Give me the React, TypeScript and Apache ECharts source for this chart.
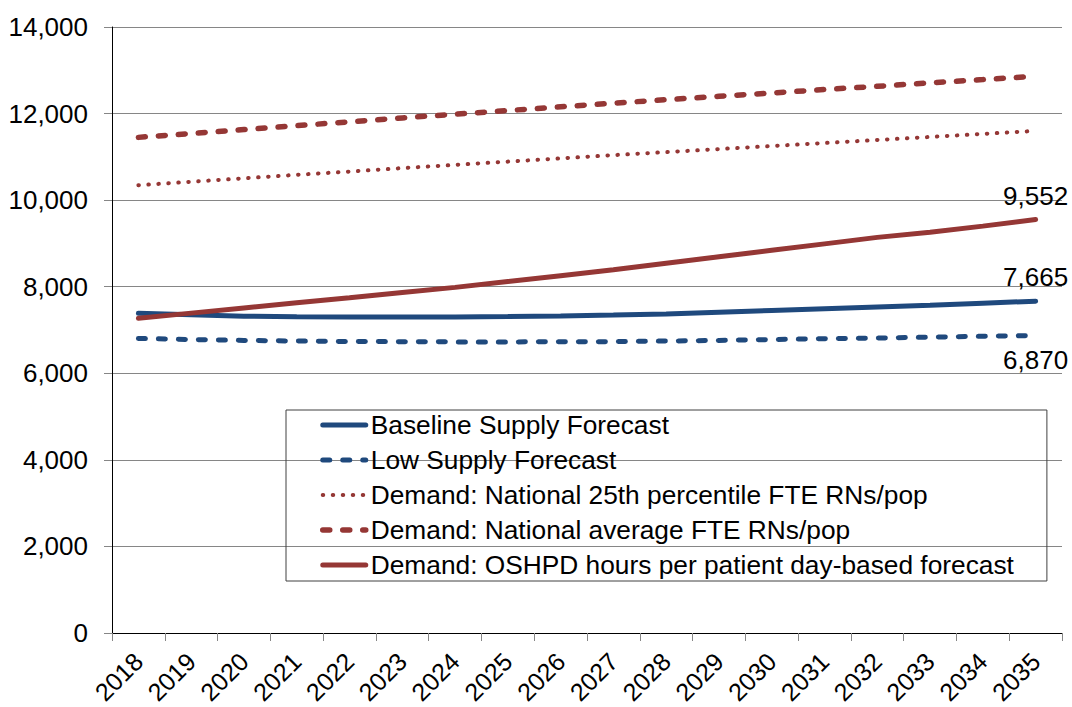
import React, { useEffect, useRef } from "react";
import * as echarts from "echarts";

const years = ["2018","2019","2020","2021","2022","2023","2024","2025","2026","2027","2028","2029","2030","2031","2032","2033","2034","2035"];
const baselineSupply = [7385,7350,7320,7305,7300,7300,7300,7310,7325,7345,7370,7410,7450,7490,7530,7570,7620,7665];
const lowSupply = [6805,6780,6760,6745,6735,6730,6725,6725,6728,6732,6745,6760,6780,6800,6815,6835,6855,6870];
const demandNat25 = [10345,10425,10505,10585,10660,10740,10815,10890,10965,11040,11110,11180,11250,11320,11390,11460,11530,11600];
const demandNatAvg = [11450,11540,11630,11720,11810,11900,11985,12070,12155,12240,12320,12400,12475,12555,12630,12710,12785,12862];
const demandOshpd = [7270,7390,7510,7630,7745,7865,7985,8120,8255,8390,8540,8690,8840,8990,9140,9260,9400,9552];
const seriesNames = [
  "Baseline Supply Forecast",
  "Low Supply Forecast",
  "Demand: National 25th percentile FTE RNs/pop",
  "Demand: National average FTE RNs/pop",
  "Demand: OSHPD hours per patient day-based forecast",
];

const BLUE = "#1F497D";
const RED = "#953735";
const FONT = "Liberation Sans, Arial, sans-serif";

function withEndLabel(values: number[], position: "top" | "bottom") {
  return values.map((v, i) =>
    i === values.length - 1
      ? {
          value: v,
          label: {
            show: true,
            position,
            distance: 11,
            color: "#000",
            opacity: 1,
            fontSize: 26,
            fontFamily: FONT,
            formatter: (p: any) => Number(p.value).toLocaleString("en-US"),
          },
        }
      : v
  );
}

export default function App() {
  const ref = useRef<HTMLDivElement>(null);
  useEffect(() => {
    if (!ref.current) return;
    const chart = echarts.init(ref.current, undefined, { renderer: "svg" });
    const mk = (name: string, data: any[], color: string, width: number, type: any) => ({
      name,
      type: "line",
      data,
      symbol: "circle",
      symbolSize: 0.01,
      showSymbol: true,
      itemStyle: { color },
      smooth: false,
      color,
      lineStyle: { color, width, type, cap: "round" },
    });
    chart.setOption({
      animation: false,
      backgroundColor: "#fff",
      textStyle: { fontFamily: FONT },
      grid: { left: 112, right: 10, top: 27, bottom: 74, outerBoundsMode: "none", containLabel: false },
      legend: {
        orient: "vertical",
        left: 286,
        top: 410,
        padding: [2, 33, 3, 34],
        borderColor: "#404040",
        borderWidth: 1,
        itemWidth: 43,
        itemHeight: 14,
        itemGap: 9,
        itemStyle: { opacity: 0 },
        lineStyle: { width: "inherit", type: "inherit", cap: "round" },
        textStyle: { fontSize: 26.3, lineHeight: 26, color: "#000", fontFamily: FONT },
        data: seriesNames,
      },
      xAxis: {
        type: "category",
        data: years,
        boundaryGap: true,
        axisLine: { lineStyle: { color: "#000", width: 1 } },
        axisTick: { show: true, length: 8, lineStyle: { color: "#868686" } },
        axisLabel: { rotate: 45, margin: 24, fontSize: 25, color: "#000", fontFamily: FONT, interval: 0 },
      },
      yAxis: {
        type: "value",
        min: 0,
        max: 14000,
        interval: 2000,
        axisLine: { show: true, lineStyle: { color: "#000", width: 1 } },
        axisTick: { show: true, length: 8, lineStyle: { color: "#868686" } },
        splitLine: { lineStyle: { color: "#868686", width: 1 } },
        axisLabel: {
          margin: 24,
          fontSize: 26,
          color: "#000",
          fontFamily: FONT,
          formatter: (v: number) => v.toLocaleString("en-US"),
        },
      },
      series: [
        mk(seriesNames[0], withEndLabel(baselineSupply, "top"), BLUE, 5, "solid"),
        mk(seriesNames[1], withEndLabel(lowSupply, "bottom"), BLUE, 5, [7, 13]),
        mk(seriesNames[2], demandNat25, RED, 4, [0.5, 9.5]),
        mk(seriesNames[3], demandNatAvg, RED, 5.5, [7, 13]),
        mk(seriesNames[4], withEndLabel(demandOshpd, "top"), RED, 5, "solid"),
      ],
    });
    return () => chart.dispose();
  }, []);
  return (
    <div
      ref={ref}
      style={{ position: "absolute", left: 0, top: 0, width: 1072, height: 707, background: "#fff" }}
    />
  );
}
